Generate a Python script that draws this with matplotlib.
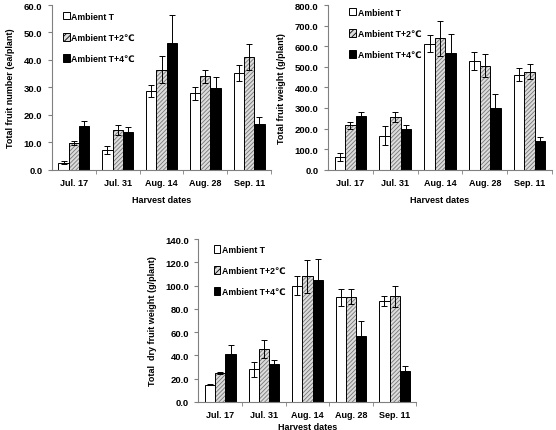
import numpy as np
import matplotlib
matplotlib.use('Agg')
import matplotlib.pyplot as plt
from matplotlib.patches import Patch

plt.rcParams['font.family'] = ['Liberation Sans', 'DejaVu Sans']
plt.rcParams['font.weight'] = 'bold'
plt.rcParams['hatch.linewidth'] = 0.6

dates = ['Jul. 17', 'Jul. 31', 'Aug. 14', 'Aug. 28', 'Sep. 11']
series = ['Ambient T', 'Ambient T+2\u2103', 'Ambient T+4\u2103']

# total fruit number (ea/plant)
num_t0 = [2.5, 7.2, 28.7, 27.8, 35.2]
num_t2 = [9.8, 14.3, 36.5, 34.0, 41.0]
num_t4 = [16.0, 13.8, 46.0, 29.6, 16.8]
num_e0 = [0.5, 1.5, 2.2, 2.5, 3.0]
num_e2 = [0.8, 1.8, 5.0, 2.3, 4.8]
num_e4 = [1.7, 1.7, 10.5, 4.3, 2.5]

# total fruit weight (g/plant)
wt_t0 = [62, 165, 613, 528, 462]
wt_t2 = [215, 257, 638, 505, 477]
wt_t4 = [260, 198, 568, 298, 140]
wt_e0 = [18, 45, 40, 45, 30]
wt_e2 = [15, 25, 85, 57, 38]
wt_e4 = [20, 20, 90, 70, 20]

# total dry fruit weight (g/plant)
dry_t0 = [15, 28, 100, 90, 87]
dry_t2 = [25, 45.5, 108, 90.5, 91]
dry_t4 = [41, 33, 105, 57, 26.5]
dry_e0 = [0.3, 6.5, 8, 7.5, 4.5]
dry_e2 = [0.8, 8, 14, 6.5, 9]
dry_e4 = [8, 3, 17.5, 12.5, 4]

fig = plt.figure(figsize=(5.56, 4.31), dpi=100)

W = 0.235
AXC = '#808080'
HATCH = '////////'


def panel(rect, vals, errs, ymax, ystep, ylabel, leg_xy, xlabel_pad):
    ax = fig.add_axes(rect)
    x = np.arange(len(dates))
    ek = dict(ecolor='black', elinewidth=0.7, capsize=2, capthick=0.7)
    ax.bar(x - W, vals[0], W, color='white', edgecolor='black', linewidth=0.7,
           yerr=errs[0], error_kw=ek, zorder=2)
    # hatched bar: fill + gray hatch, then black outline on top
    ax.bar(x, vals[1], W, color='#dcdcdc', edgecolor='#767676', linewidth=0,
           hatch=HATCH, zorder=2)
    ax.bar(x, vals[1], W, color='none', edgecolor='black', linewidth=0.7,
           yerr=errs[1], error_kw=ek, zorder=3)
    ax.bar(x + W, vals[2], W, color='black', edgecolor='black', linewidth=0.7,
           yerr=errs[2], error_kw=ek, zorder=2)
    ax.set_xlim(-0.5, 4.5)
    ax.set_ylim(0, ymax)
    yt = np.arange(0, ymax + ystep / 2, ystep)
    ax.set_yticks(yt)
    ax.set_yticklabels(['%.1f' % v for v in yt])
    ax.set_xticks(x)
    ax.set_xticklabels(dates)
    ax.set_xticks(np.arange(0.5, 5, 1), minor=True)
    ax.tick_params(axis='x', which='major', length=0, pad=6, labelsize=6.5)
    ax.tick_params(axis='x', which='minor', length=3, color=AXC, direction='out')
    ax.tick_params(axis='y', length=3, color=AXC, labelsize=6.8, pad=4)
    for s in ['top', 'right']:
        ax.spines[s].set_visible(False)
    for s in ['left', 'bottom']:
        ax.spines[s].set_color(AXC)
        ax.spines[s].set_linewidth(0.8)
    ax.set_ylabel(ylabel, fontsize=6.5, fontweight='bold', labelpad=6)
    ax.set_xlabel('Harvest dates', fontsize=6.5, fontweight='bold', labelpad=xlabel_pad)
    handles = [Patch(facecolor='white', edgecolor='black', linewidth=0.7),
               Patch(facecolor='#dcdcdc', edgecolor='black', linewidth=0.7, hatch='//////'),
               Patch(facecolor='black', edgecolor='black', linewidth=0.7)]
    ax.legend(handles, series, loc='upper left', bbox_to_anchor=leg_xy, frameon=False,
              fontsize=6.3, handlelength=0.75, handleheight=0.95, handletextpad=0.2,
              labelspacing=1.4, borderaxespad=0, borderpad=0)
    return ax


panel([0.0935, 0.604, 0.394, 0.382], [num_t0, num_t2, num_t4], [num_e0, num_e2, num_e4],
      60, 10, 'Total fruit number (ea/plant)', (0.05, 0.96), 6)
panel([0.590, 0.604, 0.403, 0.382], [wt_t0, wt_t2, wt_t4], [wt_e0, wt_e2, wt_e4],
      800, 100, 'Total fruit weight (g/plant)', (0.095, 0.985), 6)
panel([0.357, 0.065, 0.392, 0.378], [dry_t0, dry_t2, dry_t4], [dry_e0, dry_e2, dry_e4],
      140, 20, 'Total  dry fruit weight (g/plant)', (0.07, 0.965), 2)

fig.savefig('out.png', dpi=100)
